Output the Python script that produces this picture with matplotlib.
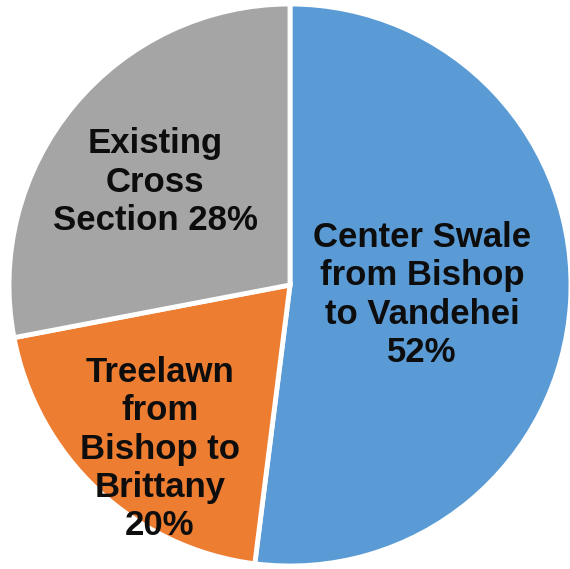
import matplotlib
matplotlib.use("Agg")
import matplotlib.pyplot as plt

# Share of work by segment
segments = ["Center Swale\nfrom Bishop\nto Vandehei", "Treelawn\nfrom\nBishop to\nBrittany", "Existing\nCross\nSection"]
shares = [52, 20, 28]
colors = ["#5B9BD5", "#ED7D31", "#A5A5A5"]

fig = plt.figure(figsize=(5.70, 5.69), dpi=100)
ax = fig.add_axes([0, 0, 1, 1])

radius = 281
wedges, _ = ax.pie(
    shares,
    colors=colors,
    startangle=90,
    counterclock=False,
    radius=radius,
    center=(0, 0),
    wedgeprops=dict(edgecolor="white", linewidth=3.5),
    frame=False,
)

ax.set_xlim(-290, 280)
ax.set_ylim(-284, 285)
ax.set_aspect("equal")
ax.axis("off")

# label anchors (offsets from the pie centre)
label_pos = [(132, -10), (-130, -164), (-135, 103)]
for name, val, (x, y) in zip(segments, shares, label_pos):
    if name.startswith("Existing"):
        text = f"{name} {val}%"
    else:
        text = f"{name}\n{val}%"
    ax.text(x, y, text, ha="center", va="center", multialignment="center",
            fontsize=25, fontweight="bold", family="Liberation Sans",
            color="#0d0d0d", linespacing=1.21)

fig.savefig("out.png", dpi=100)
